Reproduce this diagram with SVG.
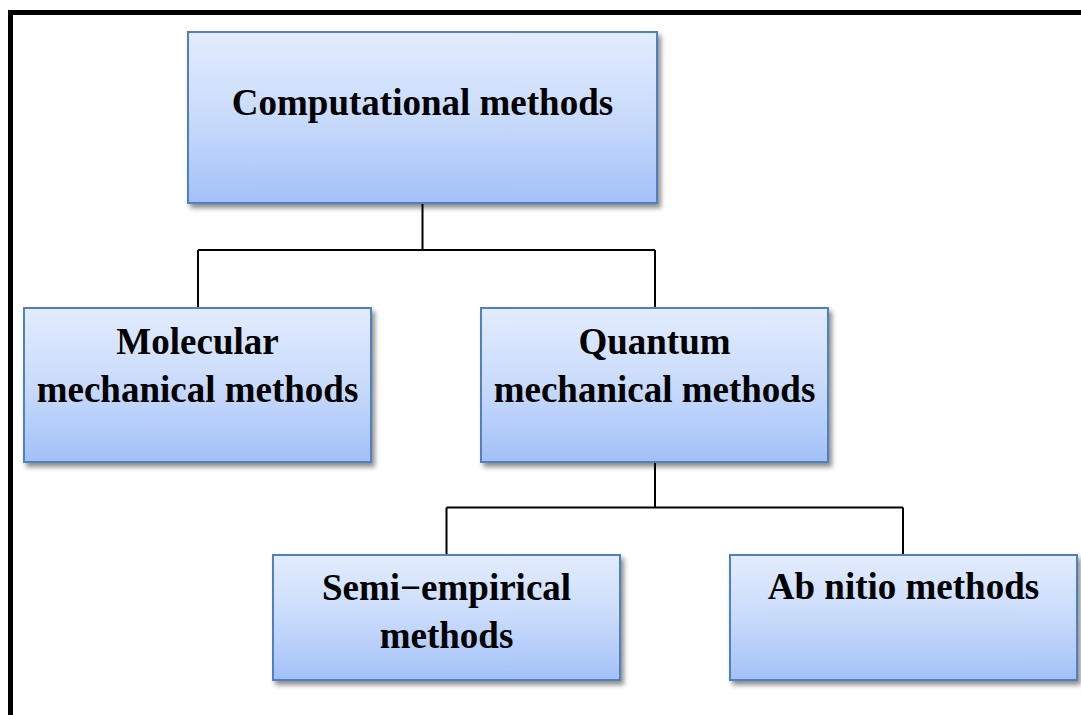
<svg xmlns="http://www.w3.org/2000/svg" width="1081" height="715" viewBox="0 0 1081 715">
  <defs>
    <linearGradient id="boxFill" x1="0" y1="0" x2="0" y2="1">
      <stop offset="0" stop-color="#e2ecfd"/>
      <stop offset="0.5" stop-color="#c9dbfb"/>
      <stop offset="1" stop-color="#a2c0f8"/>
    </linearGradient>
    <filter id="shadow" x="-10%" y="-10%" width="125%" height="130%">
      <feDropShadow dx="3" dy="4" stdDeviation="2.5" flood-color="#000" flood-opacity="0.45"/>
    </filter>
  </defs>
  <style>
    .box { fill: url(#boxFill); stroke: #4f81bd; stroke-width: 2; filter: url(#shadow); }
    .label { font-family: "Liberation Serif", "Times New Roman", serif; font-weight: bold; font-size: 37px; fill: #000; text-anchor: middle; }
    .link { fill: none; stroke: #000; stroke-width: 2; }
  </style>

  <rect x="0" y="0" width="1081" height="715" fill="#fff"/>

  <!-- outer frame -->
  <rect x="10.5" y="12.5" width="1100" height="740" fill="none" stroke="#000" stroke-width="5"/>

  <!-- connectors -->
  <g id="connectors">
    <path class="link" d="M422.5 203 V250 M198 250 H655 M198 250 V308 M655 250 V308"/>
    <path class="link" d="M655 462 V507.5 M446.5 507.5 H903 M446.5 507.5 V555 M903 507.5 V555"/>
  </g>

  <g id="computational">
    <rect class="box" x="188" y="32" width="469" height="171"/>
    <text class="label" x="422.5" y="115">Computational methods</text>
  </g>

  <g id="molecular">
    <rect class="box" x="24" y="308" width="347" height="154"/>
    <text class="label" x="197.5" y="354">Molecular</text>
    <text class="label" x="197.5" y="402">mechanical methods</text>
  </g>

  <g id="quantum">
    <rect class="box" x="481" y="308" width="347" height="154"/>
    <text class="label" x="654.5" y="354">Quantum</text>
    <text class="label" x="654.5" y="402">mechanical methods</text>
  </g>

  <g id="semi-empirical">
    <rect class="box" x="273" y="555" width="347" height="125"/>
    <text class="label" x="446.5" y="600">Semi−empirical</text>
    <text class="label" x="446.5" y="648">methods</text>
  </g>

  <g id="ab-initio">
    <rect class="box" x="730" y="555" width="347" height="125"/>
    <text class="label" x="903.5" y="599">Ab nitio methods</text>
  </g>
</svg>
